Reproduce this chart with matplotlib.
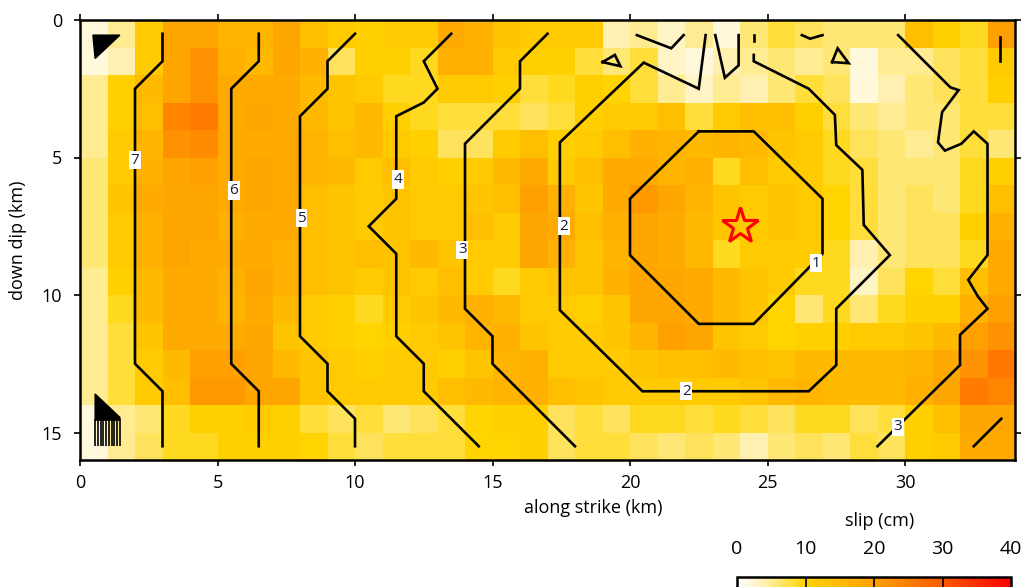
import numpy as np
import matplotlib.pyplot as plt
from matplotlib.colors import LinearSegmentedColormap

plt.rcParams['font.family'] = ['Open Sans', 'DejaVu Sans']

# fault grid: 34 cells along strike, 16 cells down dip (1 km each)
strike_edges = np.arange(0, 35)
dip_edges = np.arange(0, 17)

slip_cm = np.array([
    [2, 5, 12, 19, 19, 16, 16, 19, 14, 12, 11, 12, 12, 18, 17, 13, 12, 12, 12, 4, 5, 3, 5, 2, 6, 8, 7, 6, 6, 6, 14, 11, 9, 20],
    [2, 4, 12, 19, 22, 17, 15, 19, 17, 7, 11, 11, 9, 17, 17, 12, 11, 11, 8, 6, 8, 3, 2, 4, 5, 6, 5, 6, 2, 5, 5, 7, 8, 12],
    [5, 11, 15, 19, 22, 18, 18, 18, 15, 13, 12, 9, 9, 12, 12, 11, 8, 9, 11, 10, 8, 5, 3, 5, 4, 6, 8, 7, 2, 4, 6, 7, 8, 11],
    [5, 11, 14, 24, 25, 18, 19, 18, 15, 13, 15, 11, 9, 8, 8, 8, 7, 8, 11, 12, 12, 14, 8, 12, 14, 14, 11, 8, 6, 5, 6, 6, 8, 8],
    [5, 12, 16, 22, 23, 18, 18, 18, 16, 14, 15, 12, 11, 7, 7, 12, 14, 11, 12, 14, 17, 16, 15, 16, 15, 13, 12, 9, 7, 6, 5, 6, 8, 6],
    [6, 12, 17, 19, 20, 18, 19, 18, 16, 15, 12, 14, 12, 11, 12, 15, 18, 12, 14, 18, 18, 16, 17, 9, 14, 12, 12, 9, 8, 6, 6, 6, 9, 11],
    [6, 13, 18, 19, 19, 18, 19, 18, 14, 13, 12, 13, 12, 12, 13, 14, 20, 17, 13, 18, 21, 19, 16, 13, 12, 13, 12, 10, 8, 6, 7, 6, 9, 14],
    [6, 12, 17, 19, 19, 17, 18, 18, 14, 13, 12, 13, 12, 12, 14, 12, 19, 18, 14, 17, 19, 18, 15, 13, 12, 13, 12, 10, 8, 6, 7, 7, 11, 17],
    [6, 12, 17, 19, 18, 18, 18, 17, 14, 13, 14, 13, 15, 13, 12, 12, 19, 17, 13, 16, 19, 18, 15, 9, 12, 12, 12, 9, 4, 6, 7, 7, 9, 18],
    [5, 11, 15, 18, 18, 17, 19, 17, 14, 13, 12, 13, 12, 14, 12, 9, 12, 13, 13, 17, 19, 19, 18, 15, 13, 12, 9, 9, 3, 7, 10, 8, 14, 18],
    [5, 9, 15, 18, 18, 16, 18, 15, 12, 11, 9, 12, 13, 15, 17, 15, 12, 12, 11, 13, 19, 19, 18, 15, 13, 10, 6, 9, 6, 9, 11, 11, 17, 20],
    [5, 8, 13, 18, 18, 18, 19, 13, 12, 11, 10, 11, 12, 13, 16, 17, 13, 12, 12, 13, 16, 20, 19, 13, 12, 10, 11, 11, 12, 12, 13, 15, 20, 22],
    [5, 8, 12, 15, 20, 20, 19, 15, 13, 12, 11, 12, 12, 11, 13, 16, 17, 12, 12, 12, 13, 14, 14, 15, 14, 13, 15, 15, 15, 15, 16, 18, 22, 26],
    [5, 8, 12, 14, 21, 21, 19, 19, 13, 12, 12, 12, 12, 14, 15, 16, 17, 14, 13, 12, 12, 12, 12, 12, 13, 15, 16, 15, 15, 15, 17, 19, 25, 24],
    [2, 5, 6, 9, 11, 11, 12, 11, 8, 7, 8, 6, 7, 8, 10, 11, 11, 7, 8, 7, 9, 9, 8, 9, 8, 7, 9, 9, 7, 8, 11, 14, 19, 19],
    [2, 5, 7, 9, 9, 11, 11, 11, 10, 8, 7, 8, 8, 8, 10, 10, 11, 7, 8, 8, 7, 6, 7, 6, 4, 6, 7, 6, 8, 7, 11, 12, 18, 18],
])

# rupture-time contours (s), traced along the grid rows
rt7_x = [3, 3, 2, 2, 3, 3]
rt7_y = [0.5, 1.5, 2.5, 12.5, 13.5, 15.5]
rt6_x = [6.5, 6.5, 5.5, 5.5, 6.5, 6.5]
rt6_y = [0.5, 1.5, 2.5, 12.5, 13.5, 15.5]
rt5_x = [10, 9, 9, 8, 8, 9, 9, 10, 10]
rt5_y = [0.5, 1.5, 2.5, 3.5, 11.5, 12.5, 13.5, 14.5, 15.5]
rt4_x = [13.5, 12.5, 13, 12.5, 11.5, 11.5, 10.5, 11.5, 11.5, 12.5, 12.5, 14.5]
rt4_y = [0.5, 1.5, 2.5, 3.0, 3.5, 6.5, 7.5, 8.5, 11.5, 12.5, 13.5, 15.5]
rt3_left_x = [17, 16, 16, 14, 14, 15, 15, 18]
rt3_left_y = [0.5, 1.5, 2.5, 4.5, 10.5, 11.5, 12.5, 15.5]
rt3_right_x = [29.75, 31.65, 31.95, 31.35, 31.2, 31.45, 32.05, 32.5, 33, 33, 32.3, 32.65, 33, 32, 32, 29]
rt3_right_y = [0.55, 2.45, 2.55, 3.35, 4.45, 4.75, 4.5, 4.05, 4.5, 8.55, 9.45, 10.05, 10.5, 11.45, 12.55, 15.5]
rt2_x = [22.75, 22.5, 20.5, 17.45, 17.45, 20.45, 26.5, 27.5, 27.5, 29.45, 28.5, 28.45,
         27.5, 27.45, 26.5, 24.5, 24.5]
rt2_y = [0.55, 2.5, 1.55, 4.45, 10.55, 13.5, 13.5, 12.55, 10.5, 8.55, 7.45, 5.45,
         4.55, 3.45, 2.5, 1.5, 1.27]
rt2_notch_x = [23.1, 23.45, 23.95, 23.95]
rt2_notch_y = [0.55, 2.1, 1.65, 0.55]
rt2_top_x = [24.5, 24.5]
rt2_top_y = [0.55, 0.76]
rt2_v1_x = [20.25, 21.5, 21.95]
rt2_v1_y = [0.55, 1.03, 0.55]
rt2_v2_x = [26.25, 26.55, 27.0]
rt2_v2_y = [0.55, 0.68, 0.55]
rt2_loop1_x = [19.0, 19.45, 19.65, 19.0]
rt2_loop1_y = [1.53, 1.27, 1.68, 1.53]
rt2_loop2_x = [27.35, 27.55, 27.95, 27.35]
rt2_loop2_y = [1.53, 1.03, 1.57, 1.53]
rt1_x = [22.5, 24.5, 27, 27, 24.5, 22.5, 20, 20, 22.5]
rt1_y = [4.05, 4.05, 6.5, 8.5, 11.05, 11.05, 8.55, 6.5, 4.05]
rt_corner_a_x = [33.45, 33.45]
rt_corner_a_y = [0.6, 1.5]
rt_corner_b_x = [32.5, 33.5]
rt_corner_b_y = [15.5, 14.5]

label_text = ['7', '6', '5', '4', '3', '2', '2', '1', '3']
label_x = [2.0, 5.6, 8.05, 11.55, 13.9, 17.6, 22.05, 26.75, 29.75]
label_y = [5.1, 6.2, 7.2, 5.8, 8.35, 7.5, 13.5, 8.85, 14.8]

# hypocentre
hypo_x = [24.0]
hypo_y = [7.5]

# slip-vector glyphs in the left column
glyph_top_x = [0.47, 1.45, 0.55]
glyph_top_y = [0.55, 0.55, 1.4]
glyph_bot_x = [0.55, 1.45, 1.45, 0.55]
glyph_bot_y = [13.6, 14.45, 14.55, 14.55]
glyph_stem_x = [0.55, 0.65, 0.75, 0.85, 0.95, 1.05, 1.15, 1.25, 1.35, 1.45]
glyph_stem_top = 14.5
glyph_stem_bot = 15.5

slip_cmap = LinearSegmentedColormap.from_list(
    'slip', [(0.0, '#ffffff'), (0.1, '#fff0b0'), (0.25, '#ffd400'), (0.5, '#ffa000'),
             (0.75, '#ff5a00'), (1.0, '#ff0000')])

fig = plt.figure(figsize=(10.26, 5.87), dpi=100)
ax = fig.add_axes([80 / 1026, 1 - 460 / 587, 935 / 1026, 440 / 587])

mesh = ax.pcolormesh(strike_edges, dip_edges, slip_cm, cmap=slip_cmap,
                     vmin=0, vmax=40, shading='flat')

lines = [(rt7_x, rt7_y), (rt6_x, rt6_y), (rt5_x, rt5_y), (rt4_x, rt4_y),
         (rt3_left_x, rt3_left_y), (rt3_right_x, rt3_right_y),
         (rt2_x, rt2_y), (rt2_notch_x, rt2_notch_y), (rt2_top_x, rt2_top_y),
         (rt2_v1_x, rt2_v1_y), (rt2_v2_x, rt2_v2_y),
         (rt2_loop1_x, rt2_loop1_y), (rt2_loop2_x, rt2_loop2_y),
         (rt1_x, rt1_y), (rt_corner_a_x, rt_corner_a_y), (rt_corner_b_x, rt_corner_b_y)]
for xs, ys in lines:
    ax.plot(xs, ys, color='black', lw=1.9, solid_joinstyle='miter', zorder=3)

for t, lx, ly in zip(label_text, label_x, label_y):
    ax.text(lx, ly, t, fontsize=11, color='#1c1c3a', ha='center', va='center', zorder=4,
            bbox=dict(boxstyle='square,pad=0.1', fc='white', ec='none'))

ax.plot(hypo_x, hypo_y, marker='*', ms=27, mfc='none', mec='red', mew=2.2,
        ls='none', zorder=5)

ax.fill(glyph_top_x, glyph_top_y, color='black', zorder=3)
ax.fill(glyph_bot_x, glyph_bot_y, color='black', zorder=3)
ax.vlines(glyph_stem_x, glyph_stem_top, glyph_stem_bot, color='black', lw=1.2, zorder=3)

ax.set_xlim(0, 34)
ax.set_ylim(16, 0)
ax.set_xticks([0, 5, 10, 15, 20, 25, 30])
ax.set_yticks([0, 5, 10, 15])
ax.tick_params(direction='out', length=4, width=1.2, top=True, right=True,
               labelsize=13, pad=6)
ax.tick_params(axis='y', pad=9)
for sp in ax.spines.values():
    sp.set_linewidth(1.8)

ax.set_xlabel('along strike (km)', fontsize=13)
ax.xaxis.label.set_va('center')
ax.xaxis.set_label_coords((593 - 80) / 935, -(508 - 460) / 440)
ax.set_ylabel('down dip (km)', fontsize=13)
ax.yaxis.label.set_va('center')
ax.yaxis.set_label_coords((18 - 80) / 935, 0.5)

# colour scale, bottom right
cax = fig.add_axes([737 / 1026, -0.008, 274 / 1026, 0.025])
cb = fig.colorbar(mesh, cax=cax, orientation='horizontal')
cb.outline.set_linewidth(1.8)
for v in [10, 20, 30]:
    cax.axvline(v, color='black', lw=1.2)
cb.set_ticks([0, 10, 20, 30, 40])
cax.xaxis.set_ticks_position('top')
cax.tick_params(length=0, labelsize=14, pad=14)
fig.text(880 / 1026, 1 - 521 / 587, 'slip (cm)', fontsize=13, ha='center', va='center')

fig.savefig('out.png', dpi=100)
